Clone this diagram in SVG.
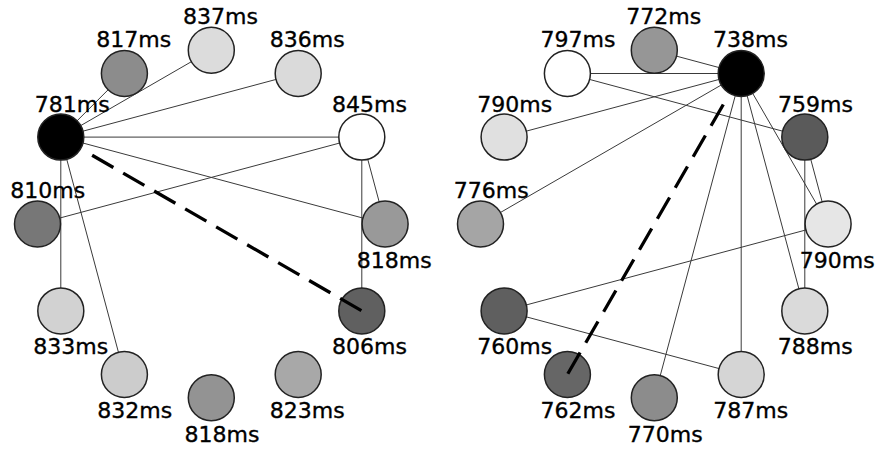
<svg xmlns="http://www.w3.org/2000/svg" width="878" height="450" viewBox="0 0 878 450">
<style>
.e{stroke:#3a3a3a;stroke-width:1;fill:none}
.d{stroke:#000;stroke-width:3.3;fill:none;stroke-dasharray:24.5 11.3}
circle{stroke:#222;stroke-width:1.5}
text{font-family:"DejaVu Sans",sans-serif;font-size:22px;fill:#000;stroke:#000;stroke-width:0.35;text-anchor:middle}
</style>
<rect width="878" height="450" fill="#fff"/>
<g id="connectors">
<line class="e" x1="60.8" y1="137.1" x2="124.4" y2="73.5"/>
<line class="e" x1="60.8" y1="137.1" x2="211.3" y2="50.2"/>
<line class="e" x1="60.8" y1="137.1" x2="298.2" y2="73.5"/>
<line class="e" x1="60.8" y1="137.1" x2="361.8" y2="137.1"/>
<line class="e" x1="60.8" y1="137.1" x2="385.1" y2="224"/>
<line class="e" x1="60.8" y1="137.1" x2="60.8" y2="310.9"/>
<line class="e" x1="60.8" y1="137.1" x2="124.4" y2="374.5"/>
<line class="e" x1="361.8" y1="137.1" x2="37.5" y2="224"/>
<line class="e" x1="361.8" y1="137.1" x2="385.1" y2="224"/>
<line class="e" x1="361.8" y1="137.1" x2="361.8" y2="310.9"/>
<line class="e" x1="741.2" y1="73.5" x2="654.3" y2="50.2"/>
<line class="e" x1="741.2" y1="73.5" x2="567.4" y2="73.5"/>
<line class="e" x1="567.4" y1="73.5" x2="804.8" y2="137.1"/>
<line class="e" x1="741.2" y1="73.5" x2="504.1" y2="137.1"/>
<line class="e" x1="741.2" y1="73.5" x2="480.5" y2="224"/>
<line class="e" x1="741.2" y1="73.5" x2="828.1" y2="224"/>
<line class="e" x1="741.2" y1="73.5" x2="804.8" y2="310.9"/>
<line class="e" x1="741.2" y1="73.5" x2="741.2" y2="374.5"/>
<line class="e" x1="741.2" y1="73.5" x2="654.3" y2="397.8"/>
<line class="e" x1="804.8" y1="137.1" x2="828.1" y2="224"/>
<line class="e" x1="804.8" y1="137.1" x2="804.8" y2="310.9"/>
<line class="e" x1="504.1" y1="310.9" x2="828.1" y2="224"/>
<line class="e" x1="504.1" y1="310.9" x2="741.2" y2="374.5"/>
</g>
<g id="n837"><circle cx="211.3" cy="50.2" r="23" fill="#dcdcdc"/><text x="220.5" y="24">837ms</text></g>
<g id="n817"><circle cx="124.4" cy="73.5" r="23" fill="#8c8c8c"/><text x="133.7" y="46.7">817ms</text></g>
<g id="n836"><circle cx="298.2" cy="73.5" r="23" fill="#dadada"/><text x="307.2" y="46.7">836ms</text></g>
<g id="n781"><circle cx="60.8" cy="137.1" r="23" fill="#000"/><text x="72.2" y="111.7">781ms</text></g>
<g id="n845"><circle cx="361.8" cy="137.1" r="23" fill="#fff"/><text x="369.5" y="111.7">845ms</text></g>
<g id="n810"><circle cx="37.5" cy="224" r="23" fill="#777"/><text x="47.7" y="198.3">810ms</text></g>
<g id="n818r"><circle cx="385.1" cy="224" r="23" fill="#999"/><text x="394.2" y="268.3">818ms</text></g>
<g id="n833"><circle cx="60.8" cy="310.9" r="23" fill="#d2d2d2"/><text x="70.8" y="354.3">833ms</text></g>
<g id="n806"><circle cx="361.8" cy="310.9" r="23" fill="#606060"/><text x="369.5" y="354.3">806ms</text></g>
<g id="n832"><circle cx="124.4" cy="374.5" r="23" fill="#ccc"/><text x="134.7" y="417.7">832ms</text></g>
<g id="n823"><circle cx="298.2" cy="374.5" r="23" fill="#a8a8a8"/><text x="307.2" y="417.7">823ms</text></g>
<g id="n818b"><circle cx="211.3" cy="397.8" r="23" fill="#939393"/><text x="222" y="442.3">818ms</text></g>
<g id="n772"><circle cx="654.3" cy="50.2" r="23" fill="#969696"/><text x="663.8" y="24">772ms</text></g>
<g id="n797"><circle cx="567.4" cy="73.5" r="23" fill="#fff"/><text x="578" y="46.7">797ms</text></g>
<g id="n738"><circle cx="741.2" cy="73.5" r="23" fill="#000"/><text x="750.5" y="46.7">738ms</text></g>
<g id="n790l"><circle cx="504.1" cy="137.1" r="23" fill="#e0e0e0"/><text x="514.7" y="111.7">790ms</text></g>
<g id="n759"><circle cx="804.8" cy="137.1" r="23" fill="#5a5a5a"/><text x="815.5" y="111.7">759ms</text></g>
<g id="n776"><circle cx="480.5" cy="224" r="23" fill="#a5a5a5"/><text x="491.3" y="198.3">776ms</text></g>
<g id="n790r"><circle cx="828.1" cy="224" r="23" fill="#e6e6e6"/><text x="837.2" y="268.3">790ms</text></g>
<g id="n760"><circle cx="504.1" cy="310.9" r="23" fill="#5f5f5f"/><text x="514.7" y="354.3">760ms</text></g>
<g id="n788"><circle cx="804.8" cy="310.9" r="23" fill="#dadada"/><text x="815.2" y="354.3">788ms</text></g>
<g id="n762"><circle cx="567.4" cy="374.5" r="23" fill="#666"/><text x="578" y="417.7">762ms</text></g>
<g id="n787"><circle cx="741.2" cy="374.5" r="23" fill="#d5d5d5"/><text x="750.8" y="417.7">787ms</text></g>
<g id="n770"><circle cx="654.3" cy="397.8" r="23" fill="#8c8c8c"/><text x="665.2" y="442.3">770ms</text></g>
<g id="dashed-connectors">
<line class="d" x1="92.15" y1="155.2" x2="361.8" y2="310.9"/>
<line class="d" x1="723.3" y1="104.5" x2="567.4" y2="374.5"/>
</g>
</svg>
